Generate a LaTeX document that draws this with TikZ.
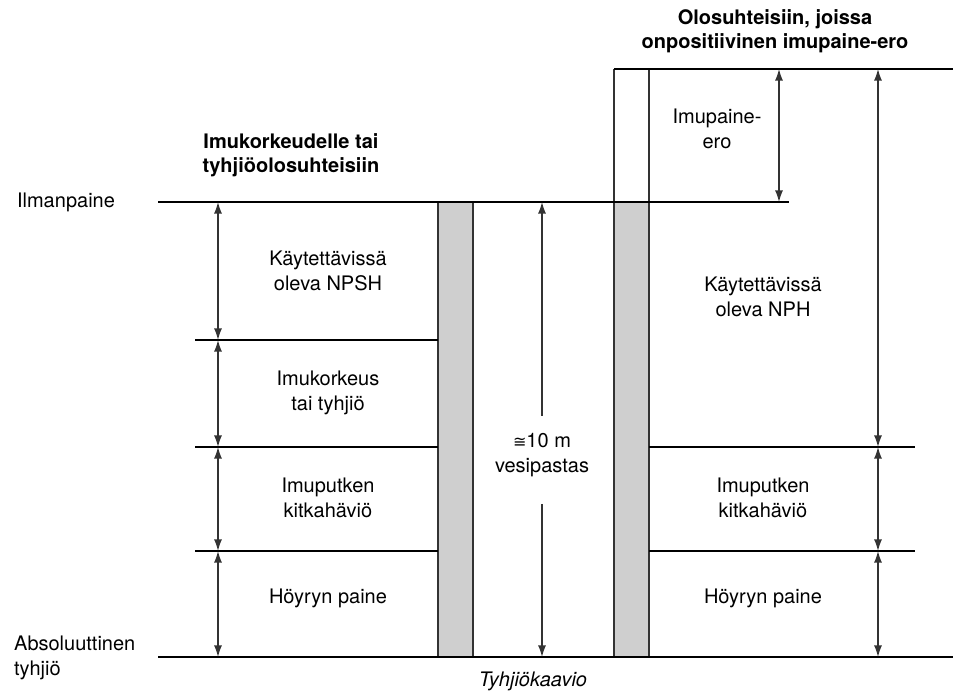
\documentclass[tikz,border=0pt]{standalone}
\usepackage{fontspec}
\setmainfont{TeX Gyre Heros}
\newfontfamily\symfont{DejaVu Sans}
\usetikzlibrary{arrows.meta,positioning}

\begin{document}
\begin{tikzpicture}[x=.5pt,y=-.5pt,
	font=\fontsize{10}{12.5}\selectfont,
	lbl/.style={align=center},
	ttl/.style={align=center,font=\fontsize{10}{12}\selectfont\bfseries},
	dim/.style={{Latex[length=5.8pt,width=4pt]}-{Latex[length=5.8pt,width=4pt]},line width=.65pt,draw=black!80},
	half/.style={-{Latex[length=5.8pt,width=4pt]},line width=.65pt,draw=black!80},
	lvl/.style={line width=1.4pt},
	sep/.style={line width=.6pt},
	col/.style={fill=black!19,draw=black!80,line width=.9pt}]
	\useasboundingbox (0,0) rectangle (955,695);
	% water columns
	\draw[col] (438,202) rectangle (473,657);
	\draw[col] (614,202) rectangle (649,657);
	\draw[line width=.9pt,draw=black!80] (614,202) -- (614,69) (649,69) -- (649,202);
	% levels
	\draw[lvl] (158,202) -- (789,202);
	\draw[lvl] (158,657) -- (953,657);
	\draw[lvl] (614,69) -- (953,69);
	\foreach \y in {340,447,551} \draw[sep] (195,\y) -- (438,\y);
	\foreach \y in {447,551} \draw[sep] (649,\y) -- (915,\y);
	% arrow ends
	\path (218,202) coordinate (l0) (218,340) coordinate (l1) (218,447) coordinate (l2)
		(218,551) coordinate (l3) (218,657) coordinate (l4);
	\path (878,69) coordinate (r0) (878,447) coordinate (r1) (878,551) coordinate (r2) (878,657) coordinate (r3);
	\path (779,69) coordinate (i0) (779,202) coordinate (i1);
	\path (542,202) coordinate (m0) (542,416) coordinate (m1) (542,504) coordinate (m2) (542,657) coordinate (m3);
	\foreach \a/\b in {l0/l1,l1/l2,l2/l3,l3/l4,r0/r1,r1/r2,r2/r3,i0/i1} \draw[dim] (\a) -- (\b);
	\draw[half] (m1) -- (m0);
	\draw[half] (m2) -- (m3);
	% labels
	\node[ttl] (ttlL) at (291,155) {Imukorkeudelle tai\\tyhjiöolosuhteisiin};
	\node[ttl] (ttlR) at (775,31) {Olosuhteisiin, joissa\\onpositiivinen imupaine-ero};
	\node[right] (atm) at (10,202) {Ilmanpaine};
	\node[right,align=left] (vac) at (7,658) {Absoluuttinen\\tyhjiö};
	\node[lbl] (npsh) at (328,271) {Käytettävissä\\oleva NPSH};
	\node[lbl] (imk) at (328,393) {Imukorkeus\\tai tyhjiö};
	\node[lbl] (kitL) at (328,498) {Imuputken\\kitkahäviö};
	\node[lbl] (hoyL) at (328,598) {Höyryn paine};
	\node[lbl] (col) at (542,455) {{\symfont\fontsize{8}{10}\selectfont ≅}10 m\\vesipastas};
	\node[lbl] (ero) at (717,129) {Imupaine-\\ero};
	\node[lbl] (nph) at (763,297) {Käytettävissä\\oleva NPH};
	\node[lbl] (kitR) at (763,498) {Imuputken\\kitkahäviö};
	\node[lbl] (hoyR) at (763,598) {Höyryn paine};
	\node[font=\fontsize{10}{12}\selectfont\itshape] (cap) at (533,681) {Tyhjiökaavio};
\end{tikzpicture}
\end{document}
